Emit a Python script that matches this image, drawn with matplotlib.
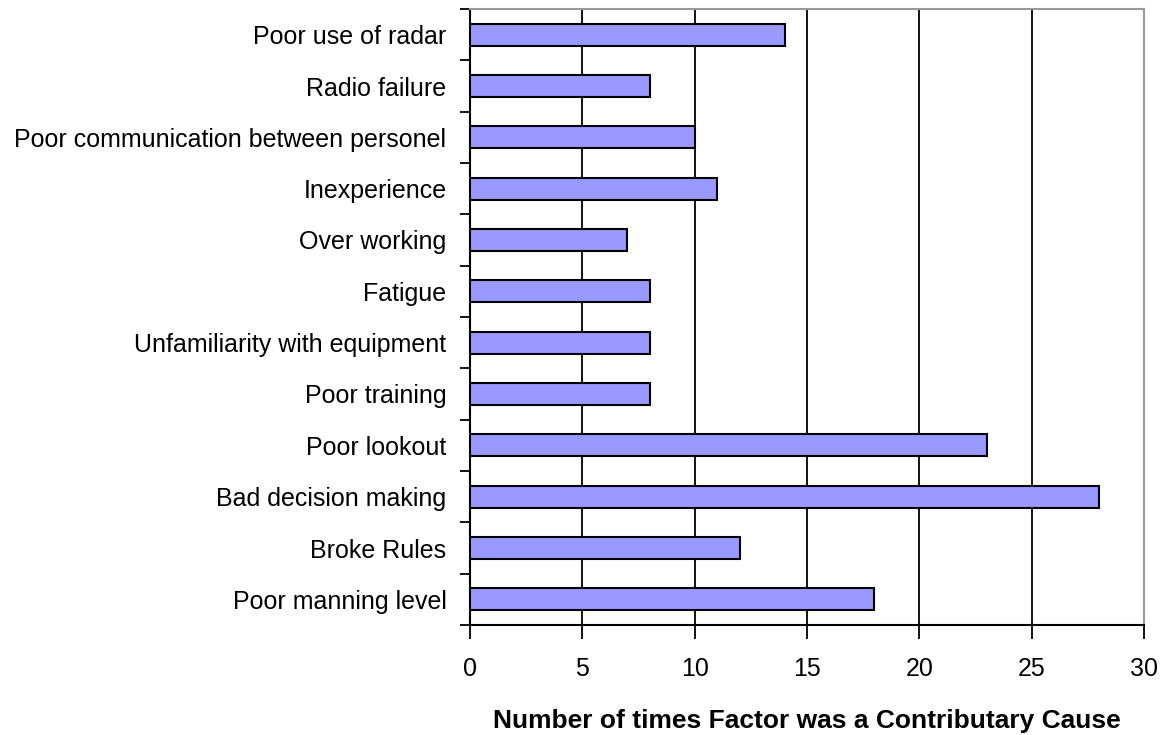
import numpy as np
import matplotlib
matplotlib.use("Agg")
import matplotlib.pyplot as plt

plt.rcParams['font.family'] = ['Liberation Sans', 'DejaVu Sans']

# data, top to bottom as in the chart
factors = ['Poor use of radar', 'Radio failure', 'Poor communication between personel',
           'Inexperience', 'Over working', 'Fatigue', 'Unfamiliarity with equipment',
           'Poor training', 'Poor lookout', 'Bad decision making', 'Broke Rules',
           'Poor manning level']
counts = [14, 8, 10, 11, 7, 8, 8, 8, 23, 28, 12, 18]
x_ticks = [0, 5, 10, 15, 20, 25, 30]

fig = plt.figure(figsize=(11.66, 7.35), dpi=100)
ax = fig.add_axes([470/1166, 1 - 625/735, (1144 - 470)/1166, (625 - 9)/735])

ypos = np.arange(len(factors))[::-1]
ax.barh(ypos, counts, height=0.43, color='#9999FF', edgecolor='black', linewidth=1.5, zorder=3)

ax.set_xlim(0, 30)
ax.set_ylim(-0.5, len(factors) - 0.5)
ax.set_xticks(x_ticks)
ax.set_xticklabels([str(t) for t in x_ticks], fontsize=18)
ax.grid(axis='x', color='black', linewidth=1.3, zorder=0)

# labels on category centres, tick marks on boundaries
ax.set_yticks(ypos)
ax.set_yticklabels(factors, fontsize=18)
ax.tick_params(axis='y', length=0, pad=17)
ax.set_yticks(np.arange(-0.5, len(factors)), minor=True)
ax.tick_params(axis='y', which='minor', length=7, width=1.3, direction='out')
ax.tick_params(axis='x', length=10, width=1.3, direction='out', pad=13)

for s in ['top', 'right']:
    ax.spines[s].set_color('#999999')
    ax.spines[s].set_linewidth(1.5)
for s in ['left', 'bottom']:
    ax.spines[s].set_color('black')
    ax.spines[s].set_linewidth(1.5)

ax.set_xlabel('Number of times Factor was a Contributary Cause', fontsize=19,
              fontweight='bold', labelpad=20)

plt.savefig('out.png', dpi=100)
